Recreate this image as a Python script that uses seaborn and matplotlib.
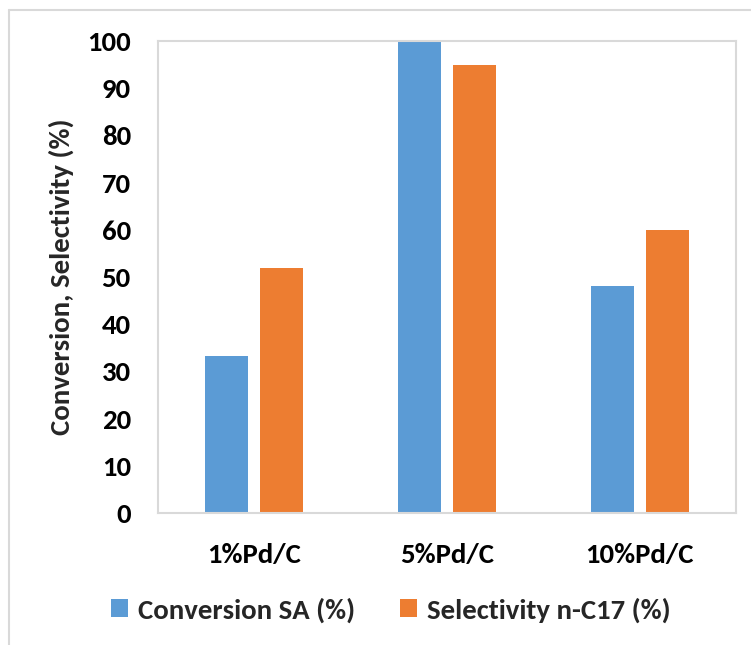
import matplotlib
matplotlib.use("Agg")
import matplotlib.pyplot as plt
from matplotlib.lines import Line2D
from matplotlib.patches import Patch
import seaborn as sns
import pandas as pd

catalysts = ["1%Pd/C", "5%Pd/C", "10%Pd/C"]
conversion_sa = [33.3, 100.0, 48.0]
selectivity_c17 = [52.0, 95.0, 60.0]
series_names = ["Conversion SA (%)", "Selectivity n-C17 (%)"]
y_ticks = [0, 10, 20, 30, 40, 50, 60, 70, 80, 90, 100]

colors = ["#5B9BD5", "#ED7D31"]

df = pd.DataFrame({
    "catalyst": catalysts * 2,
    "value": conversion_sa + selectivity_c17,
    "series": [series_names[0]] * 3 + [series_names[1]] * 3,
})

sns.set_theme(style="white")
plt.rcParams["font.family"] = ["Carlito", "DejaVu Sans"]
plt.rcParams["font.weight"] = "bold"
FS = 20.7

fig = plt.figure(figsize=(7.51, 6.45), dpi=100)
W, H = 751, 645
ax = fig.add_axes([158 / W, 1 - 513 / H, (736 - 158) / W, (513 - 41) / H])

sns.barplot(data=df, x="catalyst", y="value", hue="series", order=catalysts,
            hue_order=series_names, palette=colors, width=0.571, gap=0.22,
            saturation=1, edgecolor="none", linewidth=0, ax=ax, legend=False)

ax.set_ylim(0, 100)
ax.set_yticks(y_ticks)
ax.set_yticklabels([str(t) for t in y_ticks], fontsize=FS, fontweight="bold")
ax.set_xticks(range(len(catalysts)))
ax.set_xticklabels(catalysts, fontsize=FS, fontweight="bold")
ax.tick_params(axis="y", length=0, pad=19.5, colors="black")
ax.tick_params(axis="x", length=0, pad=21.5, colors="black")
ax.set_xlabel("")
ax.set_ylabel("Conversion, Selectivity (%)", fontsize=FS, fontweight="bold")
ax.yaxis.set_label_coords((74 - 158) / (736 - 158), 0.5)

for side in ["left", "right", "top", "bottom"]:
    ax.spines[side].set_visible(True)
    ax.spines[side].set_color("#D9D9D9")
    ax.spines[side].set_linewidth(1.5)

# outer chart frame (left and top edges)
fig.add_artist(Line2D([8.5 / W, 8.5 / W], [0, 1 - 10 / H], transform=fig.transFigure,
                      color="#D9D9D9", linewidth=1.5))
fig.add_artist(Line2D([8.5 / W, 1], [1 - 10 / H, 1 - 10 / H], transform=fig.transFigure,
                      color="#D9D9D9", linewidth=1.5))

handles = [Patch(facecolor=c, edgecolor="none") for c in colors]
fig.legend(handles, series_names, loc="center", bbox_to_anchor=(391 / W, 1 - 610 / H),
           ncol=2, frameon=False, prop={"weight": "bold", "size": FS},
           handlelength=0.6, handleheight=0.6, handletextpad=0.35, columnspacing=1.55)

fig.savefig("out.png", dpi=100)
